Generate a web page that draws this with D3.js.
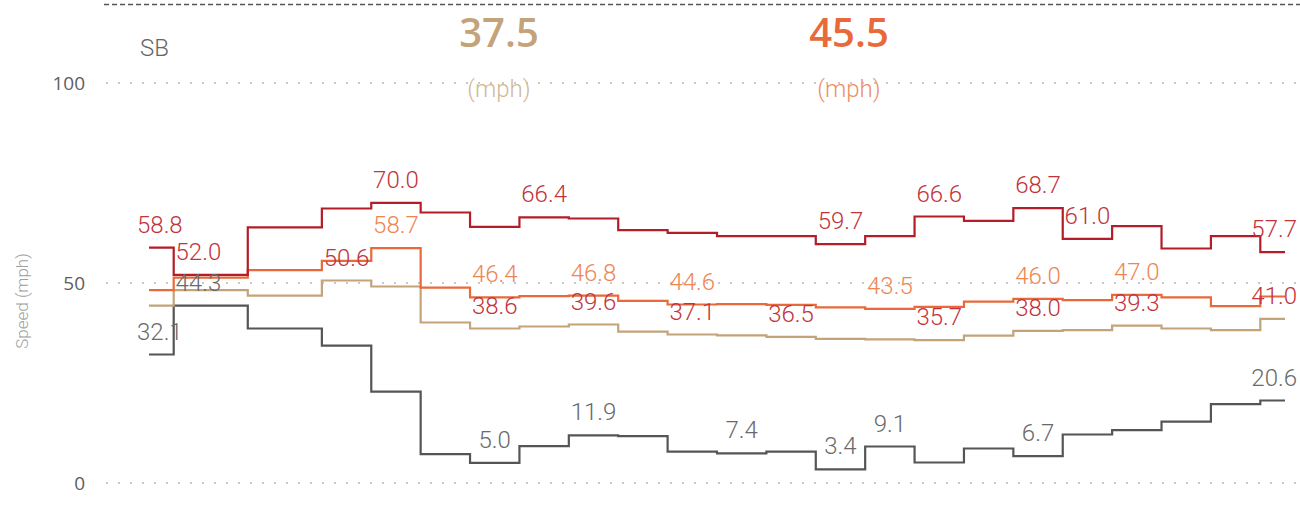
<!DOCTYPE html>
<html><head><meta charset="utf-8">
<script src="https://cdn.jsdelivr.net/npm/d3@7"></script>
<style>body{margin:0;background:#fff} svg{display:block} text{font-family:"Open Sans",sans-serif} .lt{font-family:Roboto,"Open Sans",sans-serif;font-weight:300}</style>
</head><body><svg id="c" width="1300" height="515"></svg>
<script>
// time slots (one missing slot between 1 and 3)
const slots = [0,1,3,4,5,6,7,8,9,10,11,12,13,14,15,16,17,18,19,20,21,22,23];
const redVals    = [58.8,52.0,63.9,68.6,70.0,67.6,64.0,66.4,66.1,63.2,62.5,61.7,61.7,59.7,61.7,66.6,65.5,68.7,61.0,64.2,58.6,61.7,57.7];
const orangeVals = [48.2,51.3,53.2,55.5,58.7,48.8,46.4,46.7,46.8,45.5,44.6,44.7,44.5,43.9,43.5,44.0,45.3,46.0,45.7,47.0,46.4,44.2,46.6];
const tanVals    = [44.3,48.2,46.8,50.6,49.1,40.1,38.6,39.1,39.6,37.8,37.1,36.9,36.5,36.0,35.9,35.7,36.8,38.0,38.2,39.3,38.6,38.2,41.0];
const grayVals   = [32.1,44.3,38.6,34.3,22.8,7.2,5.0,9.2,11.9,11.7,7.8,7.4,7.8,3.4,9.1,5.1,8.6,6.7,12.1,13.2,15.3,19.7,20.6];
// which points carry a data label
const redLabels    = [0,1,4,7,13,15,17,18,22];
const orangeLabels = [4,6,8,10,14,17,19];
const tanLabels    = [3,6,8,10,12,15,17,19,22];
const grayLabels   = [0,1,6,8,11,13,14,17,22];
const yTicks = [0,50,100];
const kpiValues = ["37.5","45.5"];
const kpiUnit = "(mph)";
const directionLabel = "SB";
const yTitle = "Speed (mph)";

const svg = d3.select("#c");
const x = d3.scaleLinear().domain([0,23]).range([149,1285]);
const y = d3.scaleLinear().domain([0,100]).range([482.9,82.9]);

// top dashed line
svg.append("line").attr("x1",104).attr("x2",1300).attr("y1",4.5).attr("y2",4.5)
  .attr("stroke","#555").attr("stroke-width",1.5).attr("stroke-dasharray","5,3");

// gridlines + tick labels
const yAxis = d3.axisLeft(y).tickValues(yTicks).tickSize(0).tickPadding(0);
const ga = svg.append("g").attr("transform","translate(85,0)").call(yAxis);
ga.select(".domain").remove();
ga.selectAll("text").attr("font-size",19).attr("fill","#605E5C").attr("font-family","Open Sans").attr("dy","0.35em");
svg.append("g").selectAll("line").data(yTicks).join("line")
  .attr("x1",106).attr("x2",1300).attr("y1",d=>y(d)).attr("y2",d=>y(d))
  .attr("stroke","#c8c8c8").attr("stroke-width",2).attr("stroke-dasharray","2,10");

// axis title
svg.append("text").attr("class","lt").attr("transform","translate(28,301) rotate(-90)").attr("text-anchor","middle")
  .attr("font-size",17).attr("fill","#a0a0a0").text(yTitle);

svg.append("text").attr("class","lt").attr("x",140).attr("y",56).attr("font-size",24)
  .attr("fill","#666").text(directionLabel);

// KPIs
const kpiX = [499,849], kpiCol = ["#C4A27A","#E8693A"], kpiUnitCol = ["#D2B894","#EE8F62"];
kpiValues.forEach((v,i)=>{
  svg.append("text").attr("x",kpiX[i]).attr("y",47).attr("text-anchor","middle")
    .attr("font-size",40).attr("font-weight",600).attr("fill",kpiCol[i]).text(v);
  svg.append("text").attr("class","lt").attr("x",kpiX[i]).attr("y",97).attr("text-anchor","middle")
    .attr("font-size",24).attr("fill",kpiUnitCol[i]).text(kpiUnit);
});

const series = [
  {vals:grayVals,  line:"#555555", lab:"#6a6a6a", labels:grayLabels},
  {vals:tanVals,   line:"#C4A27A", lab:"#C2333C", labels:tanLabels},
  {vals:orangeVals,line:"#E8693A", lab:"#EE8654", labels:orangeLabels},
  {vals:redVals,   line:"#B41D28", lab:"#C2333C", labels:redLabels}
];
const line = d3.line().x(d=>x(d[0])).y(d=>y(d[1])).curve(d3.curveStep);
series.forEach(s=>{
  svg.append("path").datum(slots.map((t,i)=>[t,s.vals[i]]))
    .attr("d",line).attr("fill","none").attr("stroke",s.line).attr("stroke-width",2.2);
});
series.forEach(s=>{
  s.labels.forEach(i=>{
    const t = svg.append("text").attr("class","lt").attr("y",y(s.vals[i])-15).attr("font-size",24)
      .attr("fill",s.lab).text(s.vals[i].toFixed(1));
    const w = t.node().getComputedTextLength();
    let cx = x(slots[i]);
    cx = Math.max(137+w/2, Math.min(1297-w/2, cx));
    t.attr("x",cx-w/2);
  });
});
</script></body></html>
